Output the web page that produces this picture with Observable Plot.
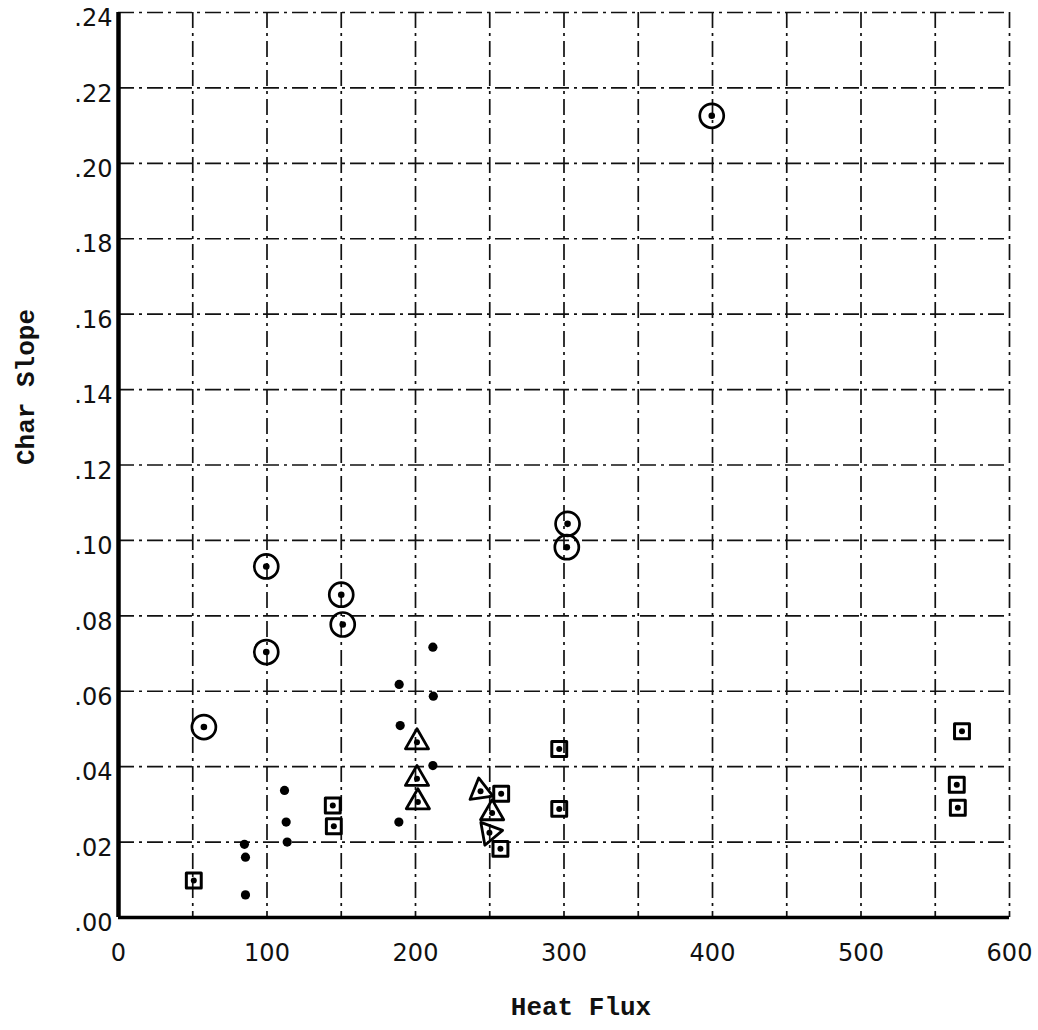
<!DOCTYPE html>
<html>
<head>
<meta charset="utf-8">
<script src="https://cdn.jsdelivr.net/npm/d3@7"></script>
<script src="https://cdn.jsdelivr.net/npm/@observablehq/plot@0.6"></script>
<style>
  html, body { margin: 0; padding: 0; background: #fff; }
</style>
</head>
<body>
<div id="chart"></div>
<script>
// Tick labels / grid
const xTicks = [0, 100, 200, 300, 400, 500, 600];
const yTicks = [0, 0.02, 0.04, 0.06, 0.08, 0.10, 0.12, 0.14, 0.16, 0.18, 0.20, 0.22, 0.24];
const gridX = [50, 100, 150, 200, 250, 300, 350, 400, 450, 500, 550, 600];
const gridY = [0.02, 0.04, 0.06, 0.08, 0.10, 0.12, 0.14, 0.16, 0.18, 0.20, 0.22, 0.24];

// Open circles with centre dot
const circleX = [57.5, 99.5, 99.5, 150, 151, 301.9, 302.4, 399.5];
const circleY = [0.0505, 0.0704, 0.0931, 0.0856, 0.0777, 0.0982, 0.1044, 0.2126];

// Solid dots
const dotX = [84.8, 85.5, 85.5, 111.8, 112.9, 113.6, 188.8, 189.7, 189.0, 211.7, 212.0, 211.7];
const dotY = [0.0194, 0.0160, 0.0060, 0.0337, 0.0253, 0.0200, 0.0253, 0.0509, 0.0618, 0.0717, 0.0587, 0.0403];

// Open squares with centre dot
const squareX = [50.7, 144.3, 145.0, 257.7, 257.2, 296.8, 296.8, 568.0, 564.5, 565.2];
const squareY = [0.0098, 0.0297, 0.0242, 0.0328, 0.0182, 0.0447, 0.0288, 0.0494, 0.0352, 0.0291];

// Open triangles with centre dot
const triangleX = [201.0, 201.0, 201.6, 243.8, 251.6, 249.8];
const triangleY = [0.0465, 0.0368, 0.0306, 0.0335, 0.0277, 0.0225];
const triangleRot = [0, 0, 0, -8, 0, 80];

const xLabel = "Heat Flux";
const yLabel = "Char Slope";

const circles = circleX.map((x, i) => ({x, y: circleY[i]}));
const dots = dotX.map((x, i) => ({x, y: dotY[i]}));
const squares = squareX.map((x, i) => ({x, y: squareY[i]}));
const triangles = triangleX.map((x, i) => ({x, y: triangleY[i], r: triangleRot[i]}));

const mono = "'Liberation Mono', 'DejaVu Sans Mono', monospace";
const dash = "16,5,3,5";

const chart = Plot.plot({
  width: 1038,
  height: 1030,
  marginLeft: 118,
  marginRight: 29,
  marginTop: 12,
  marginBottom: 113,
  style: {fontFamily: "'DejaVu Sans', sans-serif", fontSize: "24px", background: "#fff", color: "#111"},
  x: {domain: [0, 600]},
  y: {domain: [0, 0.24]},
  marks: [
    Plot.ruleX(gridX, {stroke: "#111", strokeWidth: 1.7, strokeDasharray: dash}),
    Plot.ruleY(gridY, {stroke: "#111", strokeWidth: 1.7, strokeDasharray: dash}),
    Plot.ruleX([0], {stroke: "#000", strokeWidth: 4.5}),
    Plot.ruleY([0], {stroke: "#000", strokeWidth: 3.5}),
    Plot.axisX(xTicks, {label: null, tickSize: 0, tickPadding: 26, fontSize: 24, tickFormat: d => String(d)}),
    Plot.axisY(yTicks, {label: null, tickSize: 0, tickPadding: 6, dy: 6, fontSize: 24,
      tickFormat: d => "." + String(Math.round(d * 100)).padStart(2, "0")}),
    Plot.text([xLabel], {text: d => d, frameAnchor: "bottom", dx: 17, dy: 97,
      fontFamily: mono, fontSize: 26, fontWeight: "bold", fill: "#111"}),
    Plot.text([yLabel], {text: d => d, frameAnchor: "left", dx: -93, rotate: -90,
      fontFamily: mono, fontSize: 26, fontWeight: "bold", fill: "#111"}),
    // circles
    Plot.dot(circles, {x: "x", y: "y", r: 12, stroke: "#000", strokeWidth: 2.7, fill: "none"}),
    Plot.dot(circles, {x: "x", y: "y", r: 3.3, fill: "#000"}),
    // dots
    Plot.dot(dots, {x: "x", y: "y", r: 4.6, fill: "#000"}),
    // squares
    Plot.dot(squares, {x: "x", y: "y", r: 8.4, symbol: "square", stroke: "#000", strokeWidth: 3,
      fill: "none", strokeLinejoin: "round"}),
    Plot.dot(squares, {x: "x", y: "y", r: 3, fill: "#000"}),
    // triangles
    Plot.dot(triangles, {x: "x", y: "y", r: 8.6, symbol: "triangle", rotate: "r", stroke: "#000",
      strokeWidth: 2.8, fill: "none", strokeLinejoin: "round"}),
    Plot.dot(triangles, {x: "x", y: "y", r: 3, fill: "#000"})
  ]
});
document.getElementById("chart").appendChild(chart);
</script>
</body>
</html>
